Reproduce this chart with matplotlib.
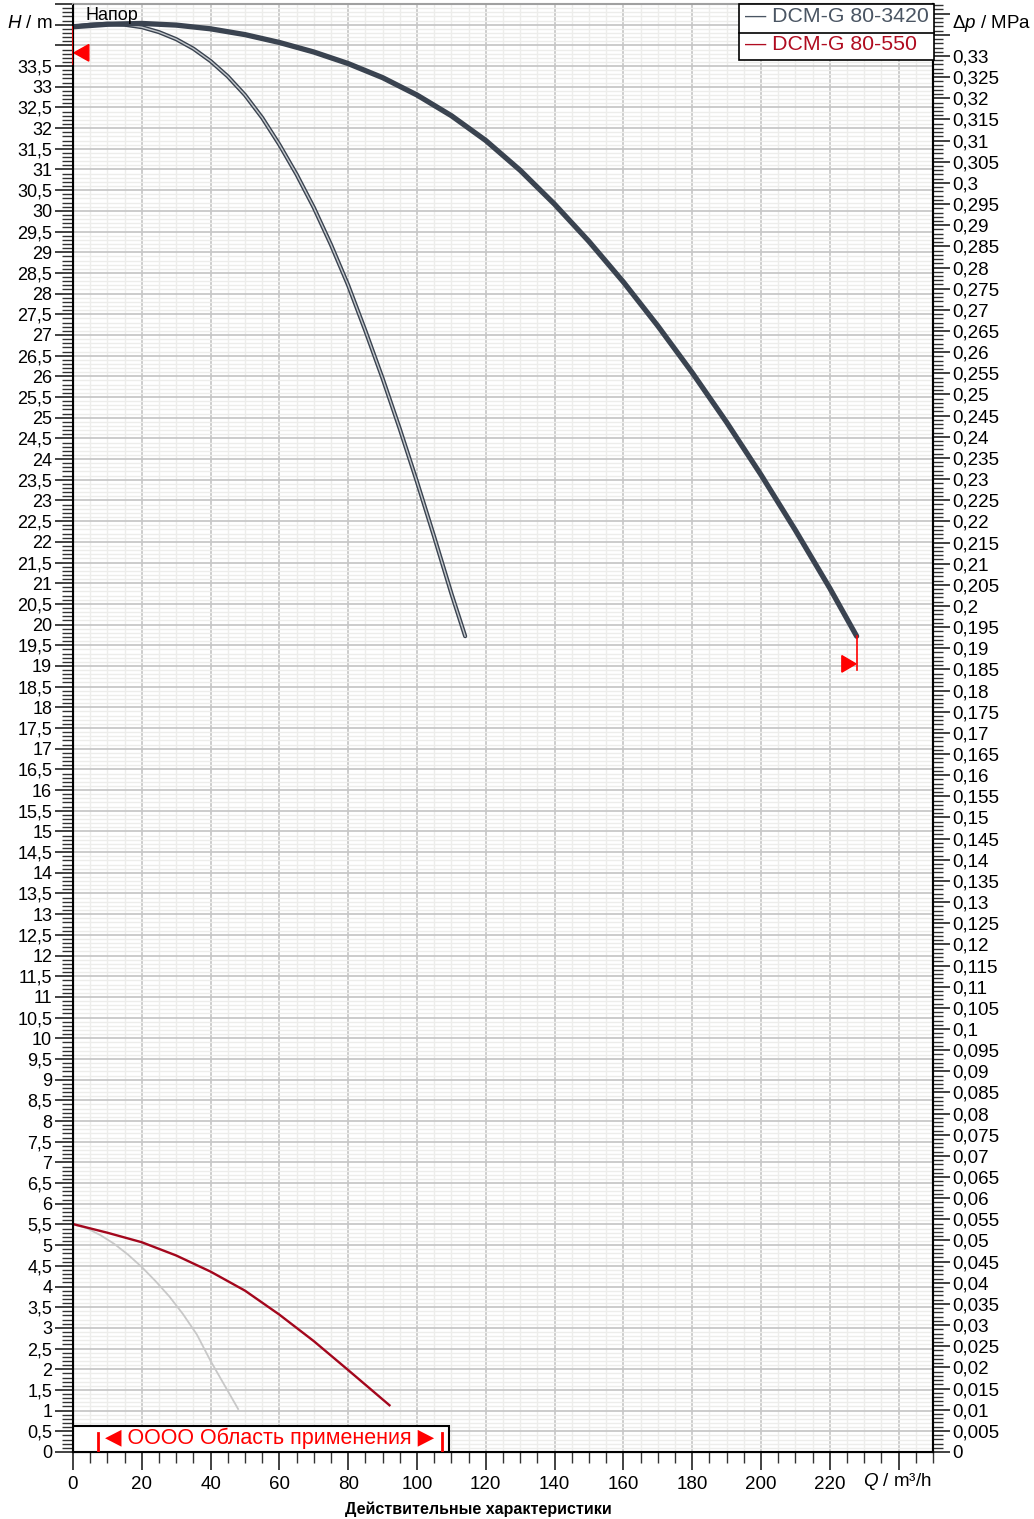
import numpy as np
import matplotlib
matplotlib.use("Agg")
import matplotlib.pyplot as plt
from matplotlib.ticker import MultipleLocator, FuncFormatter
from matplotlib.patches import Rectangle, Polygon

plt.rcParams['font.family'] = ['Liberation Sans', 'DejaVu Sans']
plt.rcParams['mathtext.fontset'] = 'custom'
plt.rcParams['mathtext.rm'] = 'Liberation Sans'
plt.rcParams['mathtext.it'] = 'Liberation Sans:italic'

# DCM-G 80-3420, основная кривая
q_main = [0, 10, 20, 30, 40, 50, 60, 70, 80, 90, 100, 110, 120, 130, 140,
          150, 160, 170, 180, 190, 200, 210, 220, 227.8]
h_main = [34.45, 34.51, 34.53, 34.49, 34.4, 34.26, 34.07, 33.84, 33.56, 33.22,
          32.8, 32.3, 31.7, 30.98, 30.16, 29.26, 28.28, 27.22, 26.09, 24.89,
          23.62, 22.28, 20.88, 19.72]

# DCM-G 80-3420, вторая кривая
q_second = [0, 5, 10, 15, 20, 25, 30, 35, 40, 45, 50, 55, 60, 65, 70, 75, 80,
            85, 90, 95, 100, 105, 110, 114]
h_second = [34.45, 34.5, 34.52, 34.5, 34.44, 34.32, 34.15, 33.92, 33.62, 33.25,
            32.8, 32.25, 31.6, 30.88, 30.08, 29.18, 28.2, 27.1, 25.95, 24.73,
            23.45, 22.12, 20.75, 19.72]

# DCM-G 80-550
q_red = [0, 10, 20, 30, 40, 50, 60, 70, 80, 92]
h_red = [5.51, 5.3, 5.07, 4.75, 4.36, 3.9, 3.32, 2.68, 1.98, 1.13]

# серая кривая
q_gray = [0, 4, 8, 12, 16, 20, 24, 28, 32, 36, 40, 44, 48]
h_gray = [5.5, 5.41, 5.24, 5.03, 4.77, 4.47, 4.13, 3.76, 3.33, 2.84, 2.2, 1.62, 1.04]

# маркеры
left_marker_h = 33.82
right_marker_h = 19.05
range_q = [7.3, 107.4]

MPA_PER_M = 0.00978
q_max, h_max = 250, 35

fig = plt.figure(figsize=(10.34, 15.19), dpi=100)
ax = fig.add_axes([73 / 1034, 67 / 1519, 860 / 1034, 1448 / 1519])
ax.set_xlim(0, q_max)
ax.set_ylim(0, h_max)

# сетка
ax.xaxis.set_major_locator(MultipleLocator(20))
ax.xaxis.set_minor_locator(MultipleLocator(5))
ax.yaxis.set_major_locator(MultipleLocator(0.5))
ax.yaxis.set_minor_locator(MultipleLocator(0.1))
ax.grid(which='minor', color='#ededeb', lw=1.0, zorder=0)
ax.grid(which='major', color='#c8c8c8', lw=1.3, zorder=0)
ax.set_axisbelow(True)

def comma(v, digits=3):
    s = f"{v:.{digits}f}".rstrip('0').rstrip('.')
    return s.replace('.', ',')

ax.yaxis.set_major_formatter(FuncFormatter(lambda v, p: comma(v) if v <= 33.51 else ''))
ax.xaxis.set_major_formatter(FuncFormatter(lambda v, p: comma(v) if v <= 221 else ''))
ax.tick_params(which='major', direction='out', length=13, width=1.3, color='#333333')
ax.tick_params(which='minor', direction='out', length=8, width=1.0, color='#333333')
ax.tick_params(axis='x', which='major', pad=4, labelsize=13.5)
ax.tick_params(axis='y', which='major', pad=2, labelsize=13)

for s in ['left', 'bottom', 'right']:
    ax.spines[s].set_linewidth(1.5)
    ax.spines[s].set_color('black')
ax.spines['top'].set_color('#a0a0a0')
ax.spines['top'].set_linewidth(1.5)

# правая ось давления
ax2 = ax.twinx()
ax2.set_ylim(0, h_max * MPA_PER_M)
ax2.yaxis.set_major_locator(MultipleLocator(0.005))
ax2.yaxis.set_minor_locator(MultipleLocator(0.001))
ax2.yaxis.set_major_formatter(FuncFormatter(lambda v, p: comma(v) if v <= 0.3301 else ''))
ax2.tick_params(which='major', direction='out', length=12, width=1.3, labelsize=13.5,
                color='#333333', pad=2)
ax2.tick_params(which='minor', direction='out', length=7, width=1.0, color='#333333')
ax2.spines['right'].set_linewidth(1.5)
ax2.spines['top'].set_visible(False)

# кривые
ax.plot(q_main, h_main, color='#3a4350', lw=3.8, solid_capstyle='round',
        solid_joinstyle='round', zorder=5)
ax.plot(q_second, h_second, color='#3a4350', lw=3.0, solid_capstyle='round',
        solid_joinstyle='round', zorder=4)
ax.plot(q_second, h_second, color='#c4c8cc', lw=1.0, solid_joinstyle='round', zorder=4)
ax.plot(q_gray, h_gray, color='#c8c8c8', lw=1.3, solid_joinstyle='round', zorder=4)
ax.plot(q_red, h_red, color='#a3061c', lw=1.7, solid_joinstyle='round', zorder=5)

# красные метки
ax.plot([0, 0], [h_main[0], 33.55], color='red', lw=1.2, zorder=6, clip_on=False)
ax.add_patch(Polygon([[0.3, left_marker_h], [4.6, left_marker_h + 0.2], [4.6, left_marker_h - 0.2]],
                     closed=True, color='red', zorder=6))
ax.plot([q_main[-1], q_main[-1]], [h_main[-1], right_marker_h - 0.15], color='red', lw=1.2, zorder=6)
ax.add_patch(Polygon([[q_main[-1] - 0.2, right_marker_h], [q_main[-1] - 4.3, right_marker_h + 0.2],
                      [q_main[-1] - 4.3, right_marker_h - 0.2]], closed=True, color='red', zorder=6))

# область применения
ax.add_patch(Rectangle((0, 0), 109.3, 0.63, facecolor='white', edgecolor='black', lw=1.5, zorder=7))
for q in range_q:
    ax.plot([q, q], [0.02, 0.46], color='red', lw=2.0, zorder=8)
ax.text(57.0, 0.33, '◀ OOOO Область применения ▶', color='red', fontsize=15.5,
        ha='center', va='center', zorder=8)

ax.text(3.5, 34.72, 'Напор', fontsize=13, ha='left', va='center', zorder=8)

# подписи осей
fig.text(53 / 1034, 1 - 23 / 1519, r'$\it{H}$ / m', fontsize=13.5, ha='right', va='center')
fig.text(952 / 1034, 1 - 23 / 1519, r'$\Delta\it{p}$ / MPa', fontsize=13.5, ha='left', va='center')
fig.text(932 / 1034, 1 - 1482 / 1519, r'$\it{Q}$ / m³/h', fontsize=13.5, ha='right', va='center')
fig.text(478 / 1034, 1 - 1509 / 1519, 'Действительные характеристики', fontsize=11.5,
         fontweight='bold', ha='center', va='center')

# легенда
leg_x0, leg_x1 = 739 / 1034, 934 / 1034
leg_y0, leg_y1, leg_mid = 1 - 60 / 1519, 1 - 4 / 1519, 1 - 33 / 1519
fig.patches.append(Rectangle((leg_x0, leg_y0), leg_x1 - leg_x0, leg_y1 - leg_y0,
                             transform=fig.transFigure, facecolor='white',
                             edgecolor='black', lw=1.2, zorder=10))
fig.lines.append(plt.Line2D([leg_x0, leg_x1], [leg_mid, leg_mid], transform=fig.transFigure,
                            color='black', lw=1.2, zorder=11))
fig.text(745 / 1034, 1 - 17 / 1519, '— DCM-G 80-3420', color='#4a5563', fontsize=15.3,
         ha='left', va='center', zorder=12)
fig.text(745 / 1034, 1 - 45 / 1519, '— DCM-G 80-550', color='#b00c20', fontsize=15.3,
         ha='left', va='center', zorder=12)

fig.savefig('out.png', dpi=100)
